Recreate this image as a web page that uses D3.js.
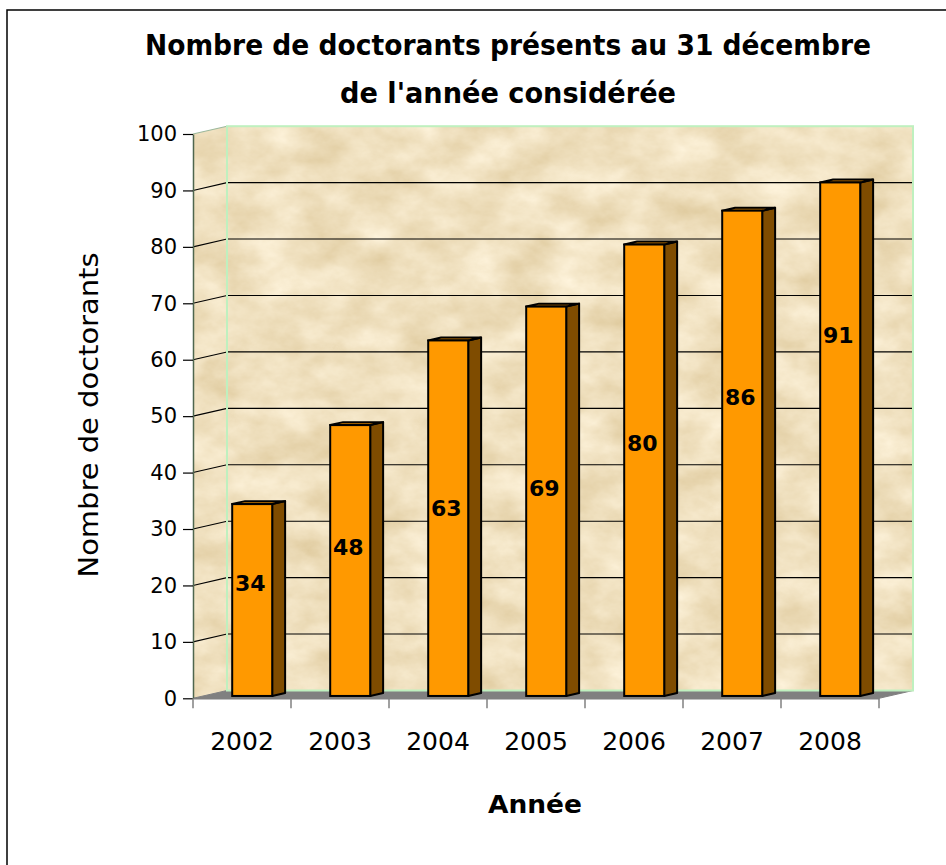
<!DOCTYPE html>
<html>
<head>
<meta charset="utf-8">
<script src="https://cdn.jsdelivr.net/npm/d3@7"></script>
<style>
  body { margin: 0; background: #fff; }
  svg { display: block; font-family: "DejaVu Sans", sans-serif; }
</style>
</head>
<body>
<div id="chart"></div>
<script>
// data
const years = ["2002", "2003", "2004", "2005", "2006", "2007", "2008"];
const counts = [34, 48, 63, 69, 80, 86, 91];
// where each value label sits along its bar (in data units)
const labelAt = [20, 26.4, 33.3, 36.8, 44.9, 53, 64];
const yTicks = [0, 10, 20, 30, 40, 50, 60, 70, 80, 90, 100];

const width = 946, height = 865;

// front plane of the 3D box
const plotLeft = 193, plotRight = 879, plotBase = 698.3, plotTop = 134;
const depthX = 34, depthY = -7.8;
const zFront = 0.3, zBack = 0.68, barW = 40;

const svg = d3.select("#chart")
  .append("svg")
  .attr("width", width)
  .attr("height", height);

const defs = svg.append("defs");
const paper = defs.append("filter")
  .attr("id", "paper")
  .attr("x", 0).attr("y", 0).attr("width", 1).attr("height", 1)
  .attr("color-interpolation-filters", "sRGB");
paper.append("feTurbulence")
  .attr("type", "fractalNoise")
  .attr("baseFrequency", "0.02 0.03")
  .attr("numOctaves", 5)
  .attr("seed", 7)
  .attr("result", "noise");
paper.append("feColorMatrix")
  .attr("in", "noise")
  .attr("type", "matrix")
  .attr("values", "0.15 0 0 0 0.865  0.2 0 0 0 0.78  0.3 0 0 0 0.6  0 0 0 0 1")
  .attr("result", "tint");
paper.append("feComposite")
  .attr("in", "tint")
  .attr("in2", "SourceGraphic")
  .attr("operator", "in");

const x = d3.scaleBand().domain(years).range([plotLeft, plotRight]);
const y = d3.scaleLinear().domain([0, 100]).range([plotBase, plotTop]);

// project a point of the front plane back by z (0..1)
const p = (xf, yf, z) => [xf + z * depthX, yf + z * depthY];
const poly = pts => pts.map(d => d.join(",")).join(" ");

// outer frame (only top and left edges show)
svg.append("rect")
  .attr("x", 7).attr("y", 10)
  .attr("width", 980).attr("height", 900)
  .attr("fill", "none")
  .attr("stroke", "#000")
  .attr("stroke-width", 1.5);

// walls
const backTL = p(plotLeft, plotTop, 1), backBR = p(plotRight, plotBase, 1);
svg.append("rect")
  .attr("x", backTL[0]).attr("y", backTL[1])
  .attr("width", backBR[0] - backTL[0])
  .attr("height", backBR[1] - backTL[1])
  .attr("fill", "#eddcb8")
  .attr("filter", "url(#paper)");

svg.append("polygon")
  .attr("points", poly([p(plotLeft, plotTop, 0), p(plotLeft, plotTop, 1), p(plotLeft, plotBase, 1), p(plotLeft, plotBase, 0)]))
  .attr("fill", "#eddcb8")
  .attr("filter", "url(#paper)");

// floor
svg.append("polygon")
  .attr("points", poly([p(plotLeft, plotBase, 0), p(plotRight, plotBase, 0), p(plotRight, plotBase, 1), p(plotLeft, plotBase, 1)]))
  .attr("fill", "#808080")
  .attr("stroke", "#808080")
  .attr("stroke-width", 1);

// gridlines
const grid = svg.append("g").attr("stroke", "#000").attr("stroke-width", 1.1);
yTicks.filter(v => v > 0 && v < 100).forEach(v => {
  const a = p(plotLeft, y(v), 1), b = p(plotRight, y(v), 1), c = p(plotLeft, y(v), 0);
  grid.append("line").attr("x1", a[0]).attr("y1", a[1]).attr("x2", b[0]).attr("y2", b[1]);
  grid.append("line").attr("x1", c[0]).attr("y1", c[1]).attr("x2", a[0]).attr("y2", a[1]);
});
{
  const a = p(plotLeft, y(100), 0), b = p(plotLeft, y(100), 1);
  grid.append("line").attr("x1", a[0]).attr("y1", a[1]).attr("x2", b[0]).attr("y2", b[1])
    .attr("stroke", "#9cb89c");
}

// back wall border
svg.append("rect")
  .attr("x", backTL[0]).attr("y", backTL[1])
  .attr("width", backBR[0] - backTL[0])
  .attr("height", backBR[1] - backTL[1])
  .attr("fill", "none")
  .attr("stroke", "#bff0bf")
  .attr("stroke-width", 2);

// bars
const bars = svg.append("g")
  .selectAll("g")
  .data(years.map((yr, i) => ({ yr, v: counts[i], lab: labelAt[i] })))
  .join("g");

bars.each(function(d) {
  const g = d3.select(this);
  const xl = x(d.yr) + (x.bandwidth() - barW) / 2, xr = xl + barW;
  const yt = y(d.v), yb = y(0);
  g.append("polygon")
    .attr("points", poly([p(xr, yt, zFront), p(xr, yt, zBack), p(xr, yb, zBack), p(xr, yb, zFront)]))
    .attr("fill", "#7f4c00")
    .attr("stroke", "#000").attr("stroke-width", 2).attr("stroke-linejoin", "round");
  g.append("polygon")
    .attr("points", poly([p(xl, yt, zFront), p(xl, yt, zBack), p(xr, yt, zBack), p(xr, yt, zFront)]))
    .attr("fill", "#cc7a00")
    .attr("stroke", "#000").attr("stroke-width", 2).attr("stroke-linejoin", "round");
  const f0 = p(xl, yt, zFront), f1 = p(xr, yb, zFront);
  g.append("rect")
    .attr("x", f0[0]).attr("y", f0[1])
    .attr("width", f1[0] - f0[0]).attr("height", f1[1] - f0[1])
    .attr("fill", "#ff9900")
    .attr("stroke", "#000").attr("stroke-width", 2);
  const lp = p((xl + xr) / 2 - 2, y(d.lab), zFront);
  g.append("text")
    .attr("x", lp[0]).attr("y", lp[1])
    .attr("dy", "0.36em")
    .attr("text-anchor", "middle")
    .attr("font-size", 22)
    .attr("font-weight", "bold")
    .attr("fill", "#000")
    .text(d.v);
});

// y axis
const yAxis = svg.append("g")
  .attr("transform", `translate(${plotLeft},0)`)
  .call(d3.axisLeft(y).tickValues(yTicks).tickSize(10).tickPadding(6).tickSizeOuter(0));
yAxis.attr("font-family", "DejaVu Sans").attr("font-size", 21);
yAxis.select(".domain").attr("stroke", "#4e664e").attr("stroke-width", 1.5);
yAxis.selectAll(".tick line").attr("stroke", "#000").attr("stroke-width", 1.2);
yAxis.selectAll(".tick text").attr("fill", "#000");

// x axis: labels centred, ticks on band edges
const xAxis = svg.append("g")
  .attr("transform", `translate(0,${plotBase})`)
  .call(d3.axisBottom(x).tickSize(0).tickPadding(34));
xAxis.attr("font-family", "DejaVu Sans").attr("font-size", 25);
xAxis.select(".domain").attr("stroke", "#808080").attr("stroke-width", 1.5);
xAxis.selectAll(".tick text").attr("fill", "#000");
xAxis.selectAll("line.edge")
  .data(years.map(yr => x(yr)).concat([plotRight]))
  .join("line")
  .attr("class", "edge")
  .attr("x1", d => d).attr("x2", d => d)
  .attr("y1", 0).attr("y2", 10)
  .attr("stroke", "#808080").attr("stroke-width", 1.5);

// titles
const title = svg.append("text")
  .attr("text-anchor", "middle")
  .attr("font-size", 28)
  .attr("font-weight", "bold")
  .attr("fill", "#000");
title.append("tspan").attr("x", 508).attr("y", 55)
  .attr("textLength", 726).attr("lengthAdjust", "spacingAndGlyphs")
  .text("Nombre de doctorants présents au 31 décembre");
title.append("tspan").attr("x", 508).attr("y", 103)
  .attr("textLength", 336).attr("lengthAdjust", "spacingAndGlyphs")
  .text("de l'année considérée");

svg.append("text")
  .attr("transform", "translate(98,415) rotate(-90)")
  .attr("text-anchor", "middle")
  .attr("font-size", 27)
  .attr("textLength", 325).attr("lengthAdjust", "spacingAndGlyphs")
  .attr("fill", "#000")
  .text("Nombre de doctorants");

svg.append("text")
  .attr("x", 535).attr("y", 813)
  .attr("text-anchor", "middle")
  .attr("font-size", 25)
  .attr("font-weight", "bold")
  .attr("textLength", 94).attr("lengthAdjust", "spacingAndGlyphs")
  .attr("fill", "#000")
  .text("Année");
</script>
</body>
</html>
